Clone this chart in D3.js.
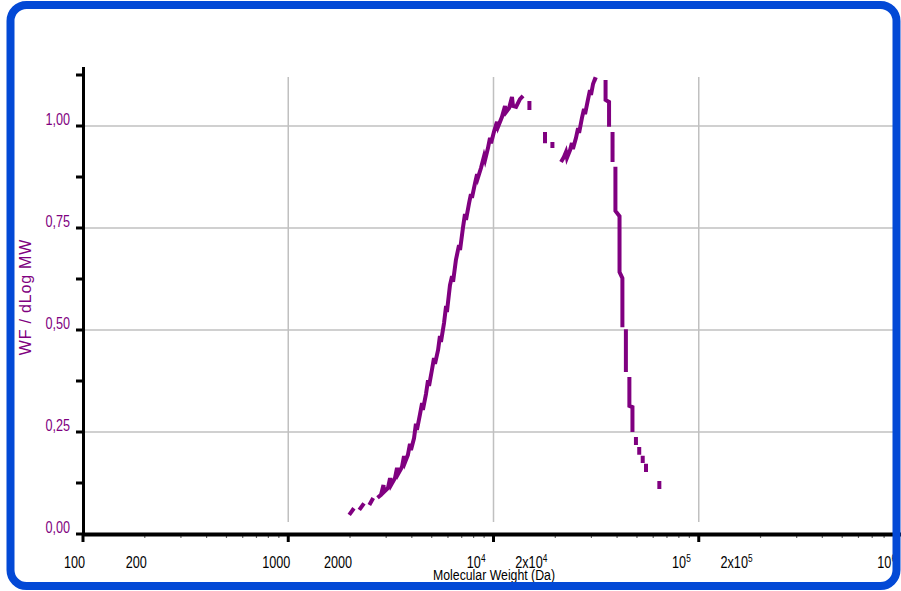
<!DOCTYPE html>
<html>
<head>
<meta charset="utf-8">
<script src="https://cdn.jsdelivr.net/npm/d3@7"></script>
<style>
  body { margin: 0; background: #fff; }
  svg { display: block; }
</style>
</head>
<body>
<script>
// Data (MW stored as log10, null = gap in the trace)
let logMW = [
  3.297, 3.320, null,
  3.346, 3.369, null,
  3.395, 3.414, null,
  3.435, 3.452, 3.464, 3.466, 3.486, 3.496, 3.501, 3.520, 3.530, 3.535,
  3.554, 3.564, 3.569, 3.583, 3.593, 3.598, 3.613, 3.622, 3.627, 3.642,
  3.652, 3.656, 3.671, 3.681, 3.686, 3.700, 3.710, 3.715, 3.730, 3.739,
  3.744, 3.759, 3.769, 3.773, 3.788, 3.798, 3.803, 3.817, 3.832, 3.837,
  3.851, 3.861, 3.866, 3.881, 3.890, 3.895, 3.910, 3.920, 3.924, 3.939,
  3.954, 3.959, 3.973, 3.983, 3.988, 4.002, 4.017, 4.022, 4.041, 4.056,
  4.061, 4.076, 4.090, 4.095, 4.110, 4.129, 4.144, null,
  4.175, 4.175, null,
  4.251, 4.251, null,
  4.287, 4.287, null,
  4.329, 4.343, 4.353, 4.358, 4.373, 4.382, 4.387, 4.402, 4.412, 4.417,
  4.431, 4.441, 4.446, 4.460, 4.470, 4.475, 4.485, 4.494, 4.504, null,
  4.546, 4.546, 4.563, 4.563, null,
  4.580, 4.580, null,
  4.594, 4.594, 4.614, 4.614, 4.628, 4.628, null,
  4.645, 4.645, null,
  4.662, 4.662, 4.677, 4.677, null,
  4.694, 4.694, null,
  4.710, 4.710, null,
  4.727, 4.727, null,
  4.743, 4.743, null,
  4.808, 4.808
];
let wf = [
  0.047, 0.063, null,
  0.059, 0.075, null,
  0.071, 0.088, null,
  0.089, 0.096, 0.120, 0.103, 0.113, 0.137, 0.120, 0.137, 0.162, 0.147,
  0.164, 0.191, 0.176, 0.194, 0.221, 0.206, 0.235, 0.270, 0.255, 0.294,
  0.321, 0.304, 0.343, 0.377, 0.363, 0.402, 0.431, 0.417, 0.451, 0.485,
  0.471, 0.517, 0.559, 0.544, 0.610, 0.632, 0.618, 0.672, 0.708, 0.696,
  0.750, 0.784, 0.770, 0.811, 0.833, 0.824, 0.860, 0.882, 0.873, 0.897,
  0.926, 0.917, 0.946, 0.971, 0.958, 0.985, 1.010, 0.998, 1.022, 1.049,
  1.034, 1.044, 1.071, 1.049, 1.047, 1.066, 1.074, null,
  1.061, 1.039, null,
  0.985, 0.958, null,
  0.961, 0.946, null,
  0.912, 0.924, 0.936, 0.922, 0.941, 0.958, 0.944, 0.971, 0.995, 0.983,
  1.020, 1.042, 1.029, 1.064, 1.088, 1.076, 1.103, 1.115, 1.113, null,
  1.113, 1.064, 1.059, 0.998, null,
  0.985, 0.912, null,
  0.900, 0.792, 0.779, 0.642, 0.627, 0.507, null,
  0.502, 0.397, null,
  0.385, 0.314, 0.311, 0.250, null,
  0.238, 0.218, null,
  0.213, 0.194, null,
  0.192, 0.174, null,
  0.172, 0.152, null,
  0.130, 0.110
];

// Tick values and labels
let yTickValues = [0, 0.25, 0.5, 0.75, 1.0];
let yMinorTicks = [0, 0.125, 0.25, 0.375, 0.5, 0.625, 0.75, 0.875, 1.0, 1.125];
let xTickValues = [100, 200, 1000, 2000, 1e4, 2e4, 1e5, 2e5, 1e6];
let xTickBase = ["100", "200", "1000", "2000", "10", "2x10", "10", "2x10", "10"];
let xTickExp = ["", "", "", "", "4", "4", "5", "5", "6"];
let xGridValues = [1000, 1e4, 1e5];
let xMajorTicks = [100, 1000, 1e4, 1e5, 1e6];

// SVG size
let svgWidth = 901;
let svgHeight = 591;
let purple = "#800080";
let font = "'Liberation Sans', Arial, sans-serif";
let squeeze = 0.79;   // fake the narrow font of the original

let svg = d3.select("body")
            .append("svg")
            .attr("width", svgWidth)
            .attr("height", svgHeight);

// scales
let xScale = d3.scaleLog().domain([100, 1e6]).range([83, 904]);
let yScale = d3.scaleLinear().domain([0, 1]).range([534, 126]);

let comma = d3.formatLocale({ decimal: ",", thousands: ".", grouping: [3], currency: ["", ""] }).format(".2f");

// gridlines
svg.append("g").selectAll("line")
   .data(yTickValues.slice(1))
   .enter()
   .append("line")
   .attr("x1", 84).attr("x2", 895)
   .attr("y1", d => yScale(d)).attr("y2", d => yScale(d))
   .attr("stroke", "#c0c0c0").attr("stroke-width", 1.5);
svg.append("g").selectAll("line")
   .data(xGridValues)
   .enter()
   .append("line")
   .attr("x1", d => xScale(d)).attr("x2", d => xScale(d))
   .attr("y1", 77).attr("y2", 522)
   .attr("stroke", "#c0c0c0").attr("stroke-width", 1.5);

// minor x ticks (2..9 in every decade)
let minor = [];
[100, 1000, 1e4, 1e5].forEach(dec => { for (let k = 2; k < 10; k++) minor.push(dec * k); });
svg.append("g").selectAll("line")
   .data(minor)
   .enter()
   .append("line")
   .attr("x1", d => xScale(d)).attr("x2", d => xScale(d))
   .attr("y1", 534).attr("y2", 538)
   .attr("stroke", "#666").attr("stroke-width", 1.2);

// major x ticks
svg.append("g").selectAll("line")
   .data(xMajorTicks)
   .enter()
   .append("line")
   .attr("x1", d => xScale(d)).attr("x2", d => xScale(d))
   .attr("y1", 534).attr("y2", 542)
   .attr("stroke", "#000").attr("stroke-width", 3);

// y ticks
svg.append("g").selectAll("line")
   .data(yMinorTicks)
   .enter()
   .append("line")
   .attr("x1", 76).attr("x2", 84)
   .attr("y1", d => yScale(d)).attr("y2", d => yScale(d))
   .attr("stroke", "#000").attr("stroke-width", 3);

// axis lines
svg.append("line").attr("x1", 83.5).attr("x2", 83.5).attr("y1", 67).attr("y2", 536)
   .attr("stroke", "#000").attr("stroke-width", 3);
svg.append("line").attr("x1", 82).attr("x2", 901).attr("y1", 534.5).attr("y2", 534.5)
   .attr("stroke", "#000").attr("stroke-width", 4);

// y tick labels
svg.append("g").selectAll("text")
   .data(yTickValues)
   .enter()
   .append("text")
   .attr("transform", d => `translate(70, ${yScale(d) - 1.5}) scale(${squeeze}, 1)`)
   .attr("text-anchor", "end")
   .attr("font-family", font)
   .attr("font-size", 16)
   .attr("fill", purple)
   .text(d => comma(d));

// x tick labels (with superscripts)
let xLabels = svg.append("g").selectAll("text")
   .data(xTickValues)
   .enter()
   .append("text")
   .attr("transform", (d, i) => `translate(${xScale(d) + (xTickExp[i] ? -8 : 2)}, 567.5) scale(${squeeze}, 1)`)
   .attr("text-anchor", "end")
   .attr("font-family", font)
   .attr("font-size", 16)
   .attr("fill", "#000");
xLabels.append("tspan").text((d, i) => xTickBase[i]);
xLabels.append("tspan")
       .attr("dy", -6)
       .attr("font-size", 10.5)
       .text((d, i) => xTickExp[i]);

// axis titles
svg.append("text")
   .attr("transform", `translate(494, 580) scale(0.82, 1)`)
   .attr("text-anchor", "middle")
   .attr("font-family", font)
   .attr("font-size", 15)
   .attr("fill", "#000")
   .text("Molecular Weight (Da)");
svg.append("text")
   .attr("transform", "translate(31, 297) rotate(-90)")
   .attr("text-anchor", "middle")
   .attr("font-family", font)
   .attr("font-size", 16)
   .attr("letter-spacing", 0.8)
   .attr("fill", purple)
   .text("WF / dLog MW");

// the distribution trace
let points = logMW.map((v, i) => [v, wf[i]]);
let line = d3.line()
             .defined(d => d[0] != null && d[1] != null)
             .x(d => xScale(Math.pow(10, d[0])))
             .y(d => yScale(d[1]));
svg.append("path")
   .attr("d", line(points))
   .attr("fill", "none")
   .attr("stroke", purple)
   .attr("stroke-width", 4)
   .attr("stroke-linejoin", "miter");

// blue rounded frame
svg.append("rect")
   .attr("x", 10.5).attr("y", 5)
   .attr("width", 886).attr("height", 581)
   .attr("rx", 16)
   .attr("fill", "none")
   .attr("stroke", "#0349d6")
   .attr("stroke-width", 8);
</script>
</body>
</html>
